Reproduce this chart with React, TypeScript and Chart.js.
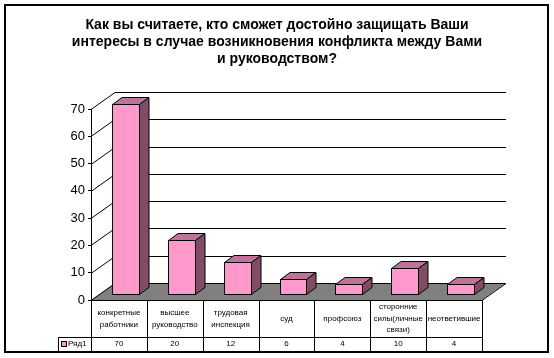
import React, { useEffect, useRef } from 'react';
import { Chart, registerables } from 'chart.js';

Chart.register(...registerables);

const titleLines = [
  'Как вы считаете, кто сможет достойно защищать Ваши',
  'интересы в случае возникновения конфликта между Вами',
  'и руководством?',
];
const categories = [
  'конкретные работники',
  'высшее руководство',
  'трудовая инспекция',
  'суд',
  'профсоюз',
  'сторонние силы(личные связи)',
  'неответившие',
];
const seriesName = 'Ряд1';
const values = [70, 20, 12, 6, 4, 10, 4];
const yTicks = [0, 10, 20, 30, 40, 50, 60, 70];

const FONT = '"Liberation Sans", Arial, sans-serif';
const FRONT = '#FF99CC';
const TOP = '#C0739A';
const SIDE = '#804C66';
const FLOOR = '#808080';

// 3D geometry
const DX = 24;
const DY = -17;
const BAR_OX = 7;
const BAR_OY = -5;
const BAR_DX = 9.5;
const BAR_DY = -7;

function wrap(ctx: CanvasRenderingContext2D, text: string, maxW: number): string[] {
  const words = text.split(' ');
  const lines: string[] = [];
  let cur = '';
  for (const w of words) {
    const t = cur ? cur + ' ' + w : w;
    if (cur && ctx.measureText(t).width > maxW) {
      lines.push(cur);
      cur = w;
    } else cur = t;
  }
  if (cur) lines.push(cur);
  return lines;
}

const excel3d = {
  id: 'excel3d',
  beforeDraw(chart: any) {
    const { ctx, width, height } = chart;
    ctx.save();
    ctx.fillStyle = '#fff';
    ctx.fillRect(0, 0, width, height);
    ctx.strokeStyle = '#000';
    ctx.lineWidth = 2;
    ctx.strokeRect(5, 5, 543, 347);
    ctx.fillStyle = '#000';
    ctx.font = 'bold 14px ' + FONT;
    ctx.textAlign = 'center';
    ctx.textBaseline = 'alphabetic';
    titleLines.forEach((t, i) => ctx.fillText(t, 277, 29 + i * 17));
    ctx.restore();
  },
  beforeDatasetsDraw(chart: any) {
    const { ctx, chartArea, scales } = chart;
    const { left, right, bottom } = chartArea;
    const y = scales.y;
    ctx.save();
    // floor
    ctx.fillStyle = FLOOR;
    ctx.beginPath();
    ctx.moveTo(left, bottom);
    ctx.lineTo(right, bottom);
    ctx.lineTo(right + DX, bottom + DY);
    ctx.lineTo(left + DX, bottom + DY);
    ctx.closePath();
    ctx.fill();
    ctx.strokeStyle = '#000';
    ctx.lineWidth = 1;
    ctx.beginPath();
    ctx.moveTo(right, bottom + 0.5);
    ctx.lineTo(right + DX, bottom + DY + 0.5);
    ctx.stroke();
    // back wall gridlines and side wall diagonals
    for (const v of yTicks) {
      const py = Math.round(y.getPixelForValue(v)) + 0.5;
      ctx.beginPath();
      ctx.moveTo(left + DX, py + DY);
      ctx.lineTo(right + DX, py + DY);
      ctx.stroke();
      ctx.beginPath();
      ctx.moveTo(left, py);
      ctx.lineTo(left + DX, py + DY);
      ctx.stroke();
    }
    ctx.restore();
    ctx.save();
    ctx.translate(BAR_OX, BAR_OY);
  },
  afterDatasetsDraw(chart: any) {
    const { ctx } = chart;
    const meta = chart.getDatasetMeta(0);
    ctx.strokeStyle = '#000';
    ctx.lineWidth = 1;
    ctx.lineJoin = 'miter';
    meta.data.forEach((bar: any) => {
      const { x, y, base, width } = bar.getProps(['x', 'y', 'base', 'width'], true);
      const l = Math.round(x - width / 2) + 0.5;
      const r = Math.round(x + width / 2) - 0.5;
      const t = Math.round(y) + 0.5;
      const b = Math.round(base) - 0.5;
      ctx.fillStyle = TOP;
      ctx.beginPath();
      ctx.moveTo(l, t);
      ctx.lineTo(l + BAR_DX, t + BAR_DY);
      ctx.lineTo(r + BAR_DX, t + BAR_DY);
      ctx.lineTo(r, t);
      ctx.closePath();
      ctx.fill();
      ctx.stroke();
      ctx.fillStyle = SIDE;
      ctx.beginPath();
      ctx.moveTo(r, t);
      ctx.lineTo(r + BAR_DX, t + BAR_DY);
      ctx.lineTo(r + BAR_DX, b + BAR_DY);
      ctx.lineTo(r, b);
      ctx.closePath();
      ctx.fill();
      ctx.stroke();
      ctx.fillStyle = FRONT;
      ctx.fillRect(l, t, r - l, b - t);
      ctx.strokeRect(l, t, r - l, b - t);
    });
    ctx.restore();
  },
  afterDraw(chart: any) {
    const { ctx, chartArea, scales } = chart;
    const { left, right, bottom } = chartArea;
    const xs = scales.x;
    const n = categories.length;
    const colW = (right - left) / n;
    const rowSplit = 337.5;
    const tableBottom = 351;
    const legendLeft = 58.5;
    ctx.save();
    ctx.strokeStyle = '#000';
    ctx.lineWidth = 1;
    ctx.beginPath();
    ctx.moveTo(left, bottom + 0.5);
    ctx.lineTo(right, bottom + 0.5);
    ctx.moveTo(legendLeft, rowSplit);
    ctx.lineTo(right, rowSplit);
    ctx.moveTo(legendLeft, rowSplit);
    ctx.lineTo(legendLeft, tableBottom);
    for (let i = 0; i <= n; i++) {
      const vx = Math.round(left + i * colW) + 0.5;
      ctx.moveTo(vx, bottom);
      ctx.lineTo(vx, tableBottom);
    }
    ctx.stroke();

    ctx.fillStyle = '#000';
    ctx.font = '8px ' + FONT;
    ctx.textAlign = 'center';
    ctx.textBaseline = 'middle';
    const lh = 11.5;
    const midCat = (bottom + rowSplit) / 2;
    categories.forEach((c, i) => {
      const cx = xs.getPixelForValue(i);
      const lines = wrap(ctx, c, colW - 4);
      const start = midCat - ((lines.length - 1) * lh) / 2;
      lines.forEach((ln, j) => ctx.fillText(ln, cx, start + j * lh));
      ctx.fillText(String(values[i]), cx, 344);
    });
    // legend key
    ctx.fillStyle = FRONT;
    ctx.fillRect(61.5, 341.5, 5, 5);
    ctx.strokeRect(61.5, 341.5, 5, 5);
    ctx.fillStyle = '#000';
    ctx.textAlign = 'left';
    ctx.fillText(seriesName, 68, 344);
    ctx.restore();
  },
};

export default function App() {
  const ref = useRef<HTMLCanvasElement | null>(null);
  useEffect(() => {
    document.body.style.margin = '0';
    const canvas = ref.current;
    if (!canvas) return;
    const chart = new Chart(canvas, {
      type: 'bar',
      data: {
        labels: categories,
        datasets: [
          {
            label: seriesName,
            data: values,
            backgroundColor: 'rgba(0,0,0,0)',
            borderWidth: 0,
            barPercentage: 0.5,
            categoryPercentage: 1,
          },
        ],
      },
      options: {
        responsive: false,
        animation: false,
        devicePixelRatio: 1,
        layout: { padding: { top: 109, right: 72, bottom: 58, left: 0 } },
        plugins: {
          legend: { display: false },
          title: { display: false },
          tooltip: { enabled: false },
        },
        scales: {
          x: { display: false, offset: true },
          y: {
            min: 0,
            max: 70,
            afterFit: (s: any) => {
              s.width = 91;
            },
            ticks: {
              stepSize: 10,
              color: '#000',
              padding: 3,
              font: { size: 13, family: FONT },
            },
            grid: {
              drawOnChartArea: false,
              drawTicks: true,
              tickLength: 3,
              color: '#000',
            },
            border: { display: true, color: '#000', width: 1 },
          },
        },
      },
      plugins: [excel3d],
    } as any);
    return () => chart.destroy();
  }, []);
  return (
    <div style={{ width: 554, height: 358 }}>
      <canvas ref={ref} width={554} height={358} style={{ display: 'block' }} />
    </div>
  );
}
